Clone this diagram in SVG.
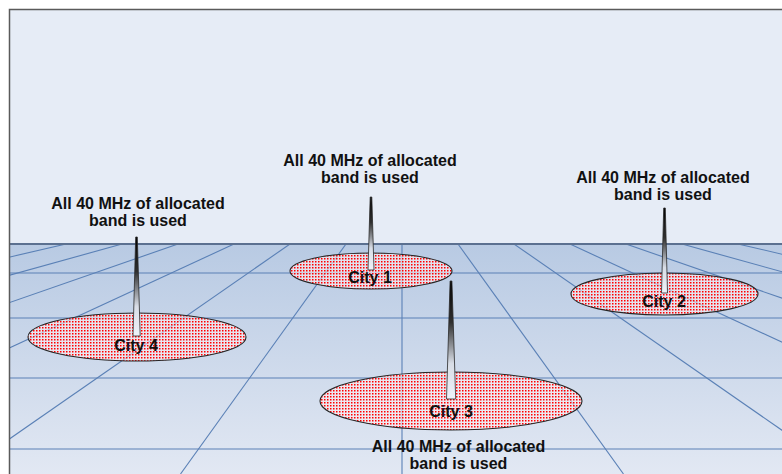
<svg xmlns="http://www.w3.org/2000/svg" width="782" height="474" viewBox="0 0 782 474">
  <defs>
    <linearGradient id="ground" x1="0" y1="0" x2="0" y2="1">
      <stop offset="0" stop-color="#b8cae3"/>
      <stop offset="1" stop-color="#e2e8f3"/>
    </linearGradient>
    <linearGradient id="tower" x1="0" y1="0" x2="0" y2="1">
      <stop offset="0" stop-color="#000000"/>
      <stop offset="0.35" stop-color="#303030"/>
      <stop offset="0.7" stop-color="#d8dde6"/>
      <stop offset="1" stop-color="#eef2f9"/>
    </linearGradient>
    <pattern id="dots" width="3" height="3" patternUnits="userSpaceOnUse">
      <rect width="3" height="3" fill="#fbeef1" fill-opacity="0.6"/>
      <rect width="1.5" height="1.5" fill="#ff0000"/>
    </pattern>
    <clipPath id="groundClip">
      <rect x="9" y="244" width="773" height="230"/>
    </clipPath>
    <style>
      .grid { stroke: #5a80b6; stroke-width: 1.1; fill: none; }
      .city { fill: url(#dots); stroke: #262626; stroke-width: 1.1; }
      .tower { fill: url(#tower); stroke: #2a2a2a; stroke-width: 0.8; }
      .note { font-family: "Liberation Sans", Arial, sans-serif; font-weight: bold; font-size: 16px; fill: #111; text-anchor: middle; }
      .name { font-family: "Liberation Sans", Arial, sans-serif; font-weight: bold; font-size: 16px; fill: #111; text-anchor: middle; }
    </style>
  </defs>

  <rect x="0" y="0" width="782" height="474" fill="#ffffff"/>
  <!-- sky -->
  <rect x="9" y="9" width="773" height="235" fill="#e6ecf6"/>
  <!-- ground -->
  <rect x="9" y="244" width="773" height="230" fill="url(#ground)"/>

  <g id="connectors" clip-path="url(#groundClip)">
    <line class="grid" x1="9" y1="273" x2="782" y2="273"/>
    <line class="grid" x1="9" y1="318" x2="782" y2="318"/>
    <line class="grid" x1="9" y1="378" x2="782" y2="378"/>
    <line class="grid" x1="9" y1="449" x2="782" y2="449"/>
    <line class="grid" x1="402" y1="244" x2="402" y2="474"/>
    <line class="grid" x1="346" y1="244" x2="180.5" y2="474"/>
    <line class="grid" x1="290" y1="244" x2="-41" y2="474"/>
    <line class="grid" x1="234" y1="244" x2="-262.5" y2="474"/>
    <line class="grid" x1="178" y1="244" x2="-484" y2="474"/>
    <line class="grid" x1="122" y1="244" x2="-705.5" y2="474"/>
    <line class="grid" x1="66" y1="244" x2="-927" y2="474"/>
    <line class="grid" x1="458" y1="244" x2="623.5" y2="474"/>
    <line class="grid" x1="514" y1="244" x2="845" y2="474"/>
    <line class="grid" x1="570" y1="244" x2="1066.5" y2="474"/>
    <line class="grid" x1="626" y1="244" x2="1288" y2="474"/>
    <line class="grid" x1="682" y1="244" x2="1509.5" y2="474"/>
    <line class="grid" x1="738" y1="244" x2="1731" y2="474"/>
  </g>
  <!-- horizon -->
  <line x1="9" y1="244" x2="782" y2="244" stroke="#5b7090" stroke-width="2"/>
  <!-- frame -->
  <path d="M9.5,474 V9.5 H782" fill="none" stroke="#5a5a5a" stroke-width="1.5"/>

  <g id="city1">
    <ellipse class="city" cx="371" cy="271" rx="81" ry="18"/>
    <polygon class="tower" points="370.2,197 371.8,197 374,270 368,270"/>
    <text class="name" x="370" y="283">City 1</text>
    <text class="note" x="370" y="165.5">All 40 MHz of allocated</text>
    <text class="note" x="370" y="182.5">band is used</text>
  </g>

  <g id="city2">
    <ellipse class="city" cx="664.5" cy="294" rx="93.5" ry="21"/>
    <polygon class="tower" points="663.7,208 665.3,208 667.5,293 661.5,293"/>
    <text class="name" x="664" y="307">City 2</text>
    <text class="note" x="663" y="183">All 40 MHz of allocated</text>
    <text class="note" x="663" y="200">band is used</text>
  </g>

  <g id="city3">
    <ellipse class="city" cx="451" cy="401" rx="131" ry="29"/>
    <polygon class="tower" points="450.1,281 451.9,281 455.7,399 446.5,399"/>
    <text class="name" x="451" y="417">City 3</text>
    <text class="note" x="458.5" y="452">All 40 MHz of allocated</text>
    <text class="note" x="458.5" y="469">band is used</text>
  </g>

  <g id="city4">
    <ellipse class="city" cx="137" cy="337" rx="109" ry="24"/>
    <polygon class="tower" points="135.7,237 137.3,237 140.2,336 133,336"/>
    <text class="name" x="136" y="351">City 4</text>
    <text class="note" x="138" y="208.5">All 40 MHz of allocated</text>
    <text class="note" x="138" y="225.5">band is used</text>
  </g>
</svg>
